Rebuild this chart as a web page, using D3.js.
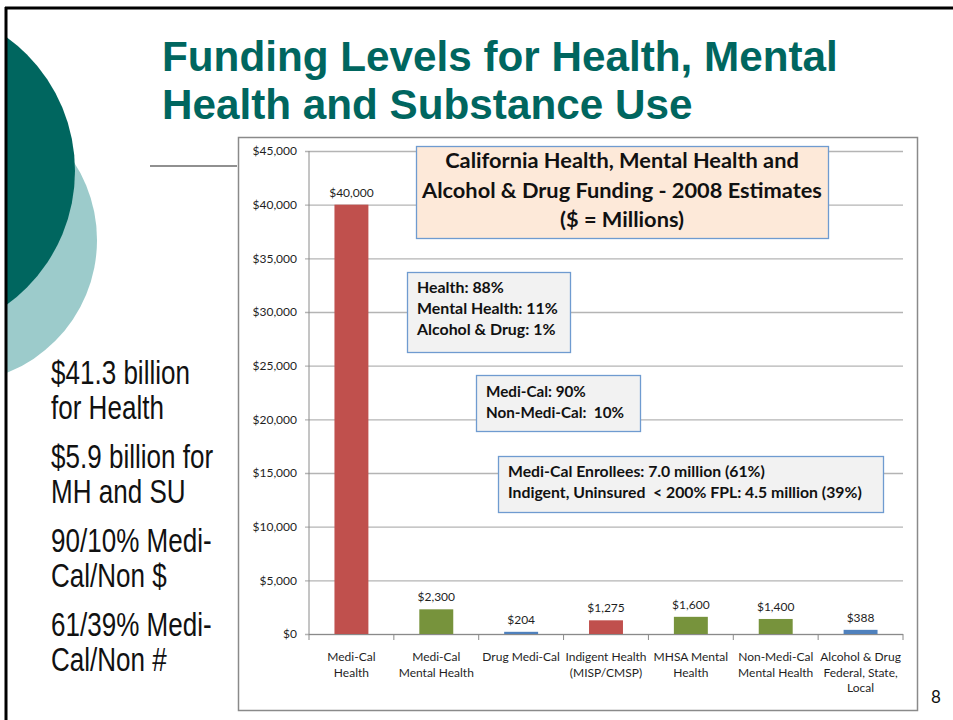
<!DOCTYPE html>
<html>
<head>
<meta charset="utf-8">
<script src="https://cdn.jsdelivr.net/npm/d3@7"></script>
<style>
  body { margin: 0; background: #fff; }
  svg { display: block; }
</style>
</head>
<body>
<svg></svg>
<script>
// chart values
const categories = [
    ["Medi-Cal", "Health"],
    ["Medi-Cal", "Mental Health"],
    ["Drug Medi-Cal"],
    ["Indigent Health", "(MISP/CMSP)"],
    ["MHSA Mental", "Health"],
    ["Non-Medi-Cal", "Mental Health"],
    ["Alcohol & Drug", "Federal, State,", "Local"]
]
const values = [40000, 2300, 204, 1275, 1600, 1400, 388]
const groups = ["Health", "Mental Health", "Alcohol & Drug", "Health", "Mental Health", "Mental Health", "Alcohol & Drug"]
const yTicks = [0, 5000, 10000, 15000, 20000, 25000, 30000, 35000, 40000, 45000]

// text on the slide
const slideTitle = ["Funding Levels for Health, Mental", "Health and Substance Use"]
const chartTitle = ["California Health, Mental Health and", "Alcohol & Drug Funding - 2008 Estimates", "($ = Millions)"]
const noteShare = ["Health: 88%", "Mental Health: 11%", "Alcohol & Drug: 1%"]
const noteMediCal = ["Medi-Cal: 90%", "Non-Medi-Cal:  10%"]
const noteEnrollees = ["Medi-Cal Enrollees: 7.0 million (61%)", "Indigent, Uninsured  < 200% FPL: 4.5 million (39%)"]
const bullets = [
    ["$41.3 billion", "for Health"],
    ["$5.9 billion for", "MH and SU"],
    ["90/10% Medi-", "Cal/Non $"],
    ["61/39% Medi-", "Cal/Non #"]
]

const svg = d3.select("svg")
    .attr("width", 953)
    .attr("height", 720)

const ink = "#1f1f1f"
const teal = "#00665f"
const chartFont = "Lato, 'Open Sans', sans-serif"

// decorative circles, clipped at the slide edge
svg.append("clipPath")
    .attr("id", "slideClip")
    .append("rect")
    .attr("x", 7).attr("y", 9).attr("width", 946).attr("height", 711)

const deco = svg.append("g").attr("clip-path", "url(#slideClip)")
deco.append("circle")
    .attr("cx", -46).attr("cy", 240).attr("r", 143)
    .attr("fill", "#9ccbcb")
deco.append("circle")
    .attr("cx", -90).attr("cy", 171).attr("r", 165)
    .attr("fill", teal)

// slide border (top and left)
svg.append("line")
    .attr("x1", 5).attr("x2", 953).attr("y1", 8).attr("y2", 8)
    .attr("stroke", "#000").attr("stroke-width", 3)
svg.append("line")
    .attr("x1", 6).attr("x2", 6).attr("y1", 7).attr("y2", 720)
    .attr("stroke", "#000").attr("stroke-width", 3)

// slide title, squeezed to the slide's narrow look
const titleText = svg.append("g")
    .selectAll("text")
    .data(slideTitle)
    .enter()
    .append("text")
    .attr("x", 0)
    .attr("y", 0)
    .attr("font-family", "'Liberation Sans', Arial, sans-serif")
    .attr("font-weight", "bold")
    .attr("font-size", 43)
    .attr("fill", teal)
    .text(d => d)
const titleWidth = titleText.node().getComputedTextLength()
const titleSqueeze = 676 / titleWidth
titleText.attr("transform", (d, i) => `translate(162, ${71 + i * 48}) scale(${titleSqueeze}, 1)`)

// short rule under the title
svg.append("line")
    .attr("x1", 150).attr("x2", 237).attr("y1", 166).attr("y2", 166)
    .attr("stroke", "#222").attr("stroke-width", 1.2)

// bullet text on the left
const bulletLines = []
bullets.forEach((para, p) => {
    para.forEach((line, l) => {
        bulletLines.push({ text: line, y: 384 + p * 84 + l * 35 })
    })
})
const bulletText = svg.append("g")
    .selectAll("text")
    .data(bulletLines)
    .enter()
    .append("text")
    .attr("font-family", "'Liberation Sans', Arial, sans-serif")
    .attr("font-size", 33)
    .attr("fill", "#111")
    .text(d => d.text)
const bulletWidth = bulletText.node().getComputedTextLength()
const bulletSqueeze = 139 / bulletWidth
bulletText.attr("transform", d => `translate(51, ${d.y}) scale(${bulletSqueeze}, 1)`)

// page number
svg.append("text")
    .attr("x", 936).attr("y", 703)
    .attr("text-anchor", "middle")
    .attr("font-family", chartFont)
    .attr("font-size", 17)
    .attr("fill", "#111")
    .text("8")

// chart frame
svg.append("rect")
    .attr("x", 238.5).attr("y", 137.5)
    .attr("width", 679).attr("height", 573)
    .attr("fill", "none")
    .attr("stroke", "#8a8a8a")
    .attr("stroke-width", 1.5)

// scales
const scaleX = d3.scaleBand()
    .domain(d3.range(categories.length))
    .range([309, 903])
    .paddingInner(0.6)
    .paddingOuter(0.3)

const scaleY = d3.scaleLinear()
    .domain([0, 45000])
    .range([634, 151])

const scaleColor = d3.scaleOrdinal()
    .domain(["Health", "Mental Health", "Alcohol & Drug"])
    .range(["#c0504d", "#77933c", "#4f81bd"])

// y axis with gridlines
const axisY = d3.axisLeft(scaleY)
    .tickValues(yTicks)
    .tickSizeInner(-598)
    .tickSizeOuter(0)
    .tickPadding(8)
    .tickFormat(d3.format("$,"))

const axisYGroup = svg.append("g")
    .attr("class", "y-axis")
    .attr("transform", "translate(903, 0)")
    .call(axisY)

axisYGroup.select(".domain").remove()
axisYGroup.selectAll(".tick line")
    .attr("x1", -598)
    .attr("x2", 0)
    .attr("stroke", "#b4b4b4")
    .attr("stroke-width", 1.3)
axisYGroup.selectAll(".tick text")
    .attr("x", -606)
    .attr("font-family", chartFont)
    .attr("font-size", 12)
    .attr("fill", ink)

svg.append("line")
    .attr("x1", 309).attr("x2", 309)
    .attr("y1", 151).attr("y2", 634)
    .attr("stroke", "#8a8a8a")

// x axis: line and boundary ticks
const axisXGroup = svg.append("g").attr("class", "x-axis")
axisXGroup.append("line")
    .attr("x1", 309).attr("x2", 903)
    .attr("y1", 634.5).attr("y2", 634.5)
    .attr("stroke", "#8a8a8a")
axisXGroup.selectAll("line.boundary")
    .data(d3.range(categories.length + 1))
    .enter()
    .append("line")
    .attr("class", "boundary")
    .attr("x1", d => 309 + d * scaleX.step())
    .attr("x2", d => 309 + d * scaleX.step())
    .attr("y1", 634)
    .attr("y2", 640)
    .attr("stroke", "#8a8a8a")

const catLabels = axisXGroup.selectAll("text.cat")
    .data(categories)
    .enter()
    .append("text")
    .attr("class", "cat")
    .attr("text-anchor", "middle")
    .attr("font-family", chartFont)
    .attr("font-size", 12)
    .attr("fill", ink)

catLabels.selectAll("tspan")
    .data((d, i) => d.map(line => ({ line: line, i: i })))
    .enter()
    .append("tspan")
    .attr("x", d => scaleX(d.i) + scaleX.bandwidth() / 2)
    .attr("y", (d, j) => 661 + j * 15.5)
    .text(d => d.line)

// bars
svg.selectAll("rect.bar")
    .data(values)
    .enter()
    .append("rect")
    .attr("class", "bar")
    .attr("x", (d, i) => scaleX(i))
    .attr("y", d => scaleY(d))
    .attr("width", scaleX.bandwidth())
    .attr("height", d => scaleY(0) - scaleY(d))
    .attr("fill", (d, i) => scaleColor(groups[i]))

// value labels
svg.selectAll("text.value")
    .data(values)
    .enter()
    .append("text")
    .attr("class", "value")
    .attr("x", (d, i) => scaleX(i) + scaleX.bandwidth() / 2)
    .attr("y", d => scaleY(d) - 8)
    .attr("text-anchor", "middle")
    .attr("font-family", chartFont)
    .attr("font-size", 12)
    .attr("fill", ink)
    .text(d => d3.format("$,")(d))

// annotation boxes; font size is fitted so the widest line matches the slide
const drawBox = function (lines, box) {
    const g = svg.append("g")
    g.append("rect")
        .attr("x", box.x + 0.5).attr("y", box.y + 0.5)
        .attr("width", box.w).attr("height", box.h)
        .attr("fill", box.fill)
        .attr("stroke", "#6f9bd0")
        .attr("stroke-width", 1.3)
    const texts = g.selectAll("text")
        .data(lines)
        .enter()
        .append("text")
        .attr("x", box.anchor === "middle" ? box.x + box.w / 2 : box.x + 10)
        .attr("y", (d, i) => box.first + i * box.lead)
        .attr("text-anchor", box.anchor)
        .attr("font-family", chartFont)
        .attr("font-weight", "bold")
        .attr("font-size", 20)
        .attr("fill", "#111")
        .style("white-space", "pre")
        .text(d => d)
    const widest = d3.max(texts.nodes(), n => n.getComputedTextLength())
    texts.attr("font-size", 20 * box.textWidth / widest)
}

drawBox(chartTitle, { x: 416, y: 146, w: 412, h: 92, fill: "#fde9d9", anchor: "middle", first: 168, lead: 29.5, textWidth: 400 })
drawBox(noteShare, { x: 407, y: 272, w: 163, h: 80, fill: "#f2f2f2", anchor: "start", first: 293, lead: 21, textWidth: 141 })
drawBox(noteMediCal, { x: 476, y: 375, w: 164, h: 56, fill: "#f2f2f2", anchor: "start", first: 397, lead: 21, textWidth: 138 })
drawBox(noteEnrollees, { x: 498, y: 456, w: 385, h: 56, fill: "#f2f2f2", anchor: "start", first: 477, lead: 20.5, textWidth: 354 })
</script>
</body>
</html>
